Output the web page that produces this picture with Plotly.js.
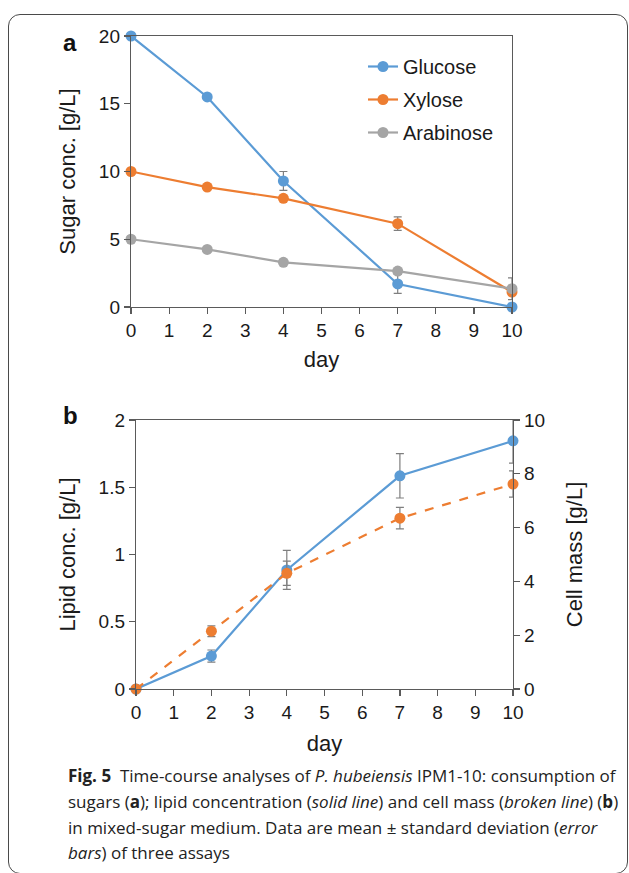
<!DOCTYPE html>
<html>
<head>
<meta charset="utf-8">
<script src="https://cdn.plot.ly/plotly-3.0.1.min.js"></script>
<style>
  html, body { margin:0; padding:0; background:#fff; overflow:hidden; }
  #wrap { position:relative; width:629px; height:873px; }
  #frame { position:absolute; left:8px; top:14px; width:620px; height:860px; border:1.5px solid #4a4a4a; border-radius:12px; box-sizing:border-box; }
  #chart { position:absolute; left:0; top:0; width:629px; height:873px; }
</style>
</head>
<body>
<div id="wrap">
  <div id="frame"></div>
  <div id="chart"></div>
</div>
<script>
// ---------- data ----------
const days = [0, 2, 4, 7, 10];

// panel a: sugars [g/L]
const glucose      = [20, 15.5, 9.3, 1.7, 0];
const glucoseErr   = [0, 0, 0.7, 0.7, 0];
const xylose       = [10, 8.85, 8.02, 6.15, 1.1];
const xyloseErr    = [0, 0, 0, 0.5, 0];
const arabinose    = [5, 4.25, 3.3, 2.65, 1.35];
const arabinoseErr = [0, 0, 0, 0, 0.8];

// panel b
const lipid       = [0, 0.245, 0.885, 1.585, 1.845];
const lipidErr    = [0, 0.045, 0.145, 0.165, 0.165];
const cellMass    = [0, 2.15, 4.3, 6.35, 7.62];
const cellMassErr = [0, 0.2, 0.45, 0.4, 0.49];

const xTicks = [0,1,2,3,4,5,6,7,8,9,10];

// ---------- styling ----------
const BLUE = '#5B9BD5', ORANGE = '#ED7D31', GRAY = '#A5A5A5';
const AX = '#5a5a5a';
const FONT = 'Liberation Sans, Arial, sans-serif';
const CAP = 'Open Sans, Noto Sans, sans-serif';
const errStyle = (arr) => ({type:'data', array:arr, visible:true, color:'#7f7f7f', thickness:1.2, width:4});

function series(name, y, err, color, xa, ya, dash, legend, group) {
  return {
    type:'scatter', mode:'lines+markers', name:name, x:days, y:y,
    xaxis:xa, yaxis:ya, legendgroup:group, showlegend:legend,
    line:{color:color, width:2.2, dash:dash || 'solid'},
    marker:{color:color, size:11},
    error_y: errStyle(err), cliponaxis:false
  };
}

const data = [
  series('Glucose', glucose, glucoseErr, BLUE, 'x', 'y', null, true, 'g1'),
  series('Xylose', xylose, xyloseErr, ORANGE, 'x', 'y', null, true, 'g2'),
  series('Arabinose', arabinose, arabinoseErr, GRAY, 'x', 'y', null, true, 'g3'),
  series('Lipid conc.', lipid, lipidErr, BLUE, 'x2', 'y2', null, false, 'g4'),
  series('Cell mass', cellMass, cellMassErr, ORANGE, 'x2', 'y3', 'dash', false, 'g5')
];

const W = 629, H = 873;
const px = v => v / W, py = v => 1 - v / H;

const tickFont = {family:FONT, size:19, color:'#1a1a1a'};
const titleFont = {family:FONT, size:22, color:'#1a1a1a'};

const baseAxis = {
  showline:true, linecolor:AX, linewidth:1.2, ticks:'outside', ticklen:6, tickwidth:1.2,
  tickcolor:AX, showgrid:false, zeroline:false, tickfont:tickFont, fixedrange:true
};

const capFont = {family:CAP, size:17, color:'#222'};
function capLine(text, y) {
  return {text:text, xref:'paper', yref:'paper', x:px(66), y:py(y), showarrow:false, xanchor:'left', yanchor:'middle', font:capFont};
}

const layout = {
  width:W, height:H, margin:{l:0, r:0, t:0, b:0},
  paper_bgcolor:'rgba(0,0,0,0)', plot_bgcolor:'rgba(0,0,0,0)',
  font:{family:FONT, color:'#1a1a1a'},
  showlegend:true,
  legend:{x:px(363), y:py(47), xanchor:'left', yanchor:'top', font:{family:FONT, size:20, color:'#1a1a1a'},
          tracegroupgap:4, bgcolor:'rgba(0,0,0,0)', itemwidth:30},
  xaxis: Object.assign({}, baseAxis, {domain:[px(131), px(512)], range:[0,10], tickvals:xTicks, mirror:true, anchor:'y',
          title:{text:'day', font:titleFont, standoff:11}}),
  yaxis: Object.assign({}, baseAxis, {domain:[py(307), py(36)], range:[0,20], dtick:5, mirror:true, anchor:'x',
          title:{text:'Sugar conc. [g/L]', font:titleFont, standoff:17}}),
  xaxis2: Object.assign({}, baseAxis, {domain:[px(136), px(513)], range:[0,10], tickvals:xTicks, mirror:true, anchor:'y2',
          title:{text:'day', font:titleFont, standoff:13}}),
  yaxis2: Object.assign({}, baseAxis, {domain:[py(689), py(420)], range:[0,2], dtick:0.5, anchor:'x2',
          title:{text:'Lipid conc. [g/L]', font:titleFont, standoff:16}}),
  yaxis3: Object.assign({}, baseAxis, {overlaying:'y2', side:'right', range:[0,10], dtick:2, anchor:'x2',
          title:{text:'Cell mass [g/L]', font:titleFont, standoff:22}}),
  annotations: [
    {text:'<b>a</b>', xref:'paper', yref:'paper', x:px(70), y:py(42), showarrow:false, font:{family:FONT, size:24, color:'#111'}, xanchor:'center', yanchor:'middle'},
    {text:'<b>b</b>', xref:'paper', yref:'paper', x:px(70), y:py(415), showarrow:false, font:{family:FONT, size:24, color:'#111'}, xanchor:'center', yanchor:'middle'},
    capLine('<b>Fig. 5</b>  Time-course analyses of <i>P. hubeiensis</i> IPM1-10: consumption of', 775),
    capLine('sugars (<b>a</b>); lipid concentration (<i>solid line</i>) and cell mass (<i>broken line</i>) (<b>b</b>)', 801),
    capLine('in mixed-sugar medium. Data are mean ± standard deviation (<i>error</i>', 827),
    capLine('<i>bars</i>) of three assays', 852)
  ]
};

Plotly.newPlot('chart', data, layout, {staticPlot:true, displayModeBar:false});
</script>
</body>
</html>
